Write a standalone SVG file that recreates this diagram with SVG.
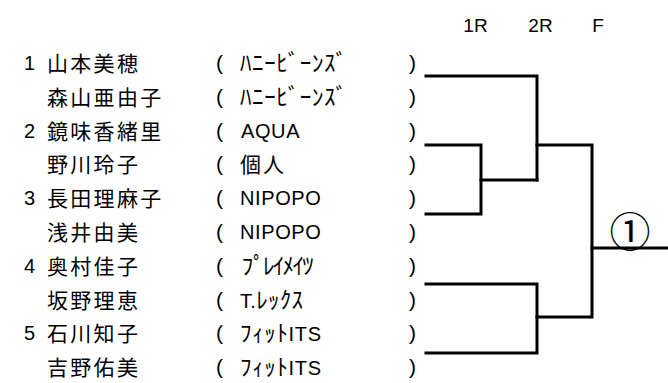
<svg xmlns="http://www.w3.org/2000/svg" width="668" height="383" viewBox="0 0 668 383">
<style>
text{font-family:"Liberation Sans","Noto Sans CJK JP",sans-serif;font-size:19px;fill:#000}
.no{font-size:20px}
.nm{font-family:"Noto Sans CJK JP",sans-serif;font-size:21px;letter-spacing:2.3px}
.tm{font-size:20px;letter-spacing:0.6px}
.kn{font-size:23px}
.lt{font-size:20px}
.jp{font-family:"Noto Sans CJK JP",sans-serif;font-size:21px;letter-spacing:2px}
.pr{font-size:21px}
.ln{stroke:#000;stroke-width:3;fill:none;stroke-linecap:square}
.win{font-family:"Noto Sans CJK JP","Liberation Sans",sans-serif;font-size:41px}
</style>
<rect width="668" height="383" fill="#fff"/>
<g id="header">
<text x="475.5" y="32" text-anchor="middle">1R</text>
<text x="540.5" y="32" text-anchor="middle">2R</text>
<text x="598" y="32" text-anchor="middle">F</text>
</g>
<g id="p1"><text class="no" x="24" y="70">1</text><text class="nm" x="47" y="71">山本美穂</text><text class="pr" x="216" y="70">(</text><text class="kn" x="240" y="71" textLength="107" lengthAdjust="spacing">ﾊﾆｰﾋﾞｰﾝｽﾞ</text><text class="pr" x="409" y="70">)</text></g>
<g id="p2"><text class="nm" x="47" y="104.8">森山亜由子</text><text class="pr" x="216" y="103.8">(</text><text class="kn" x="240" y="104.8" textLength="107" lengthAdjust="spacing">ﾊﾆｰﾋﾞｰﾝｽﾞ</text><text class="pr" x="409" y="103.8">)</text></g>
<g id="p3"><text class="no" x="24" y="137.6">2</text><text class="nm" x="47" y="138.6">鏡味香緒里</text><text class="pr" x="216" y="137.6">(</text><text class="tm" x="241" y="137.6">AQUA</text><text class="pr" x="409" y="137.6">)</text></g>
<g id="p4"><text class="nm" x="47" y="172.4">野川玲子</text><text class="pr" x="216" y="171.4">(</text><text class="jp" x="240" y="172.4">個人</text><text class="pr" x="409" y="171.4">)</text></g>
<g id="p5"><text class="no" x="24" y="205.2">3</text><text class="nm" x="47" y="206.2">長田理麻子</text><text class="pr" x="216" y="205.2">(</text><text class="tm" x="240" y="205.2">NIPOPO</text><text class="pr" x="409" y="205.2">)</text></g>
<g id="p6"><text class="nm" x="47" y="240">浅井由美</text><text class="pr" x="216" y="239">(</text><text class="tm" x="240" y="239">NIPOPO</text><text class="pr" x="409" y="239">)</text></g>
<g id="p7"><text class="no" x="24" y="272.8">4</text><text class="nm" x="47" y="273.8">奥村佳子</text><text class="pr" x="216" y="272.8">(</text><text class="kn" x="240" y="273.8" textLength="72" lengthAdjust="spacing">ﾌﾟﾚｲﾒｲﾂ</text><text class="pr" x="409" y="272.8">)</text></g>
<g id="p8"><text class="nm" x="47" y="307.6">坂野理恵</text><text class="pr" x="216" y="306.6">(</text><text class="kn" x="240" y="307.6" textLength="63" lengthAdjust="spacing"><tspan class="lt">T.</tspan>ﾚｯｸｽ</text><text class="pr" x="409" y="306.6">)</text></g>
<g id="p9"><text class="no" x="24" y="340.4">5</text><text class="nm" x="47" y="341.4">石川知子</text><text class="pr" x="216" y="340.4">(</text><text class="kn" x="240" y="341.4" textLength="81" lengthAdjust="spacing">ﾌｨｯﾄ<tspan class="lt">ITS</tspan></text><text class="pr" x="409" y="340.4">)</text></g>
<g id="p10"><text class="nm" x="47" y="375.2">吉野佑美</text><text class="pr" x="216" y="374.2">(</text><text class="kn" x="240" y="375.2" textLength="81" lengthAdjust="spacing">ﾌｨｯﾄ<tspan class="lt">ITS</tspan></text><text class="pr" x="409" y="374.2">)</text></g>
<g id="connectors">
<path class="ln" d="M426 76H537V180"/>
<path class="ln" d="M426 145H481V214H426"/>
<path class="ln" d="M481 180H537"/>
<path class="ln" d="M537 145H592V317H537"/>
<path class="ln" d="M426 284H537V353H426"/>
<path class="ln" d="M592 248H668"/>
</g>
<g id="winner"><text class="win" x="630" y="247" text-anchor="middle">①</text></g>
</svg>
